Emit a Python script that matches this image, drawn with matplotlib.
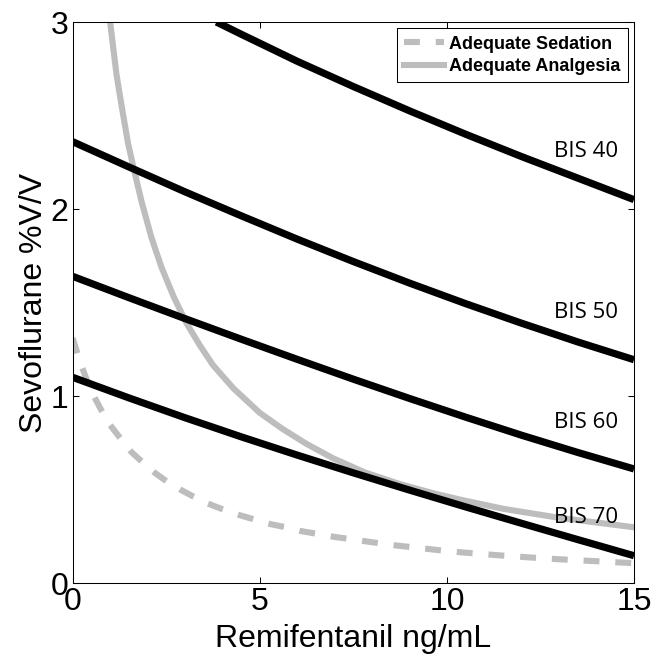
import numpy as np
import matplotlib.pyplot as plt

plt.rcParams['font.family'] = ['Liberation Sans', 'DejaVu Sans']

# Iso-BIS curves (sevoflurane vs remifentanil)
bis40_x = [3.84, 4.5, 6.0, 7.5, 9.0, 10.5, 12.0, 13.5, 15.0]
bis40_y = [3.00, 2.935, 2.79, 2.655, 2.525, 2.40, 2.28, 2.165, 2.05]

bis50_x = [0.0, 1.5, 3.0, 4.5, 6.0, 7.5, 9.0, 10.5, 12.0, 13.5, 15.0]
bis50_y = [2.36, 2.225, 2.092, 1.964, 1.839, 1.719, 1.604, 1.494, 1.389, 1.289, 1.194]

bis60_x = [0.0, 1.5, 3.0, 4.5, 6.0, 7.5, 9.0, 10.5, 12.0, 13.5, 15.0]
bis60_y = [1.64, 1.526, 1.414, 1.304, 1.196, 1.09, 0.987, 0.887, 0.79, 0.698, 0.61]

bis70_x = [0.0, 1.5, 3.0, 4.5, 6.0, 7.5, 9.0, 10.5, 12.0, 13.5, 15.0]
bis70_y = [1.10, 0.99, 0.884, 0.782, 0.684, 0.589, 0.497, 0.407, 0.319, 0.232, 0.146]

bis_labels = ['BIS 40', 'BIS 50', 'BIS 60', 'BIS 70']
label_x = 13.71
label_y = [2.305, 1.444, 0.856, 0.35]

# Adequate analgesia / sedation curves
analg_x = [0.95, 1.0, 1.17, 1.3, 1.48, 1.65, 1.84, 2.1, 2.37, 2.7, 3.04, 3.4,
           3.75, 4.3, 5.0, 5.6, 6.24, 6.95, 7.8, 8.73, 9.6, 10.33, 11.5, 12.9,
           13.9, 15.0]
analg_y = [3.10, 3.00, 2.72, 2.56, 2.35, 2.20, 2.04, 1.85, 1.69, 1.53, 1.39,
           1.27, 1.165, 1.04, 0.91, 0.825, 0.745, 0.668, 0.592, 0.53, 0.482,
           0.447, 0.397, 0.352, 0.326, 0.298]

sed_x = [0.0, 0.2, 0.35, 0.55, 0.75, 1.0, 1.25, 1.57, 1.9, 2.19, 2.5, 2.9,
         3.2, 3.61, 4.0, 4.46, 5.26, 5.7, 6.1, 6.95, 8.5, 10.14, 11.4, 12.5,
         13.0, 15.0]
sed_y = [1.31, 1.18, 1.10, 1.005, 0.93, 0.845, 0.78, 0.70, 0.64, 0.59, 0.545,
         0.497, 0.465, 0.425, 0.395, 0.363, 0.316, 0.298, 0.278, 0.248, 0.204,
         0.168, 0.148, 0.133, 0.127, 0.106]

gray = '#bdbdbd'

fig = plt.figure(figsize=(6.52, 6.55), dpi=100)
ax = fig.add_axes([0.1115, 0.1099, 0.8609, 0.8565])

ax.plot(sed_x, sed_y, color=gray, lw=4.4, dashes=(2.6, 2.6),
        dash_capstyle='butt', label='Adequate Sedation', zorder=2)
ax.plot(analg_x, analg_y, color=gray, lw=4.4, label='Adequate Analgesia',
        zorder=2)

for xs, ys in [(bis40_x, bis40_y), (bis50_x, bis50_y),
               (bis60_x, bis60_y), (bis70_x, bis70_y)]:
    ax.plot(xs, ys, color='k', lw=5.2, solid_capstyle='butt', zorder=3)

for txt, ty in zip(bis_labels, label_y):
    ax.text(label_x, ty, txt, ha='center', va='center', fontsize=16,
            family=['Open Sans', 'DejaVu Sans'], zorder=4)

ax.set_xlim(0, 15)
ax.set_ylim(0, 3)
ax.set_xticks([0, 5, 10, 15])
ax.set_yticks([0, 1, 2, 3])
ax.tick_params(direction='in', length=4.5, width=0.75, labelsize=23, pad=3,
               top=True, right=True)
for s in ax.spines.values():
    s.set_linewidth(0.75)

ax.set_xlabel('Remifentanil ng/mL', fontsize=23, labelpad=5)
ax.set_ylabel('Sevoflurane %V/V', fontsize=23, labelpad=1)

leg = ax.legend(loc='upper right', prop={'weight': 'bold', 'size': 13},
                handlelength=2.2, handletextpad=0.3, borderpad=0.4,
                labelspacing=0.3, borderaxespad=0.35, fancybox=False,
                framealpha=1)
leg.get_frame().set_edgecolor('k')
leg.get_frame().set_linewidth(0.75)

fig.savefig('out.png', dpi=100)
